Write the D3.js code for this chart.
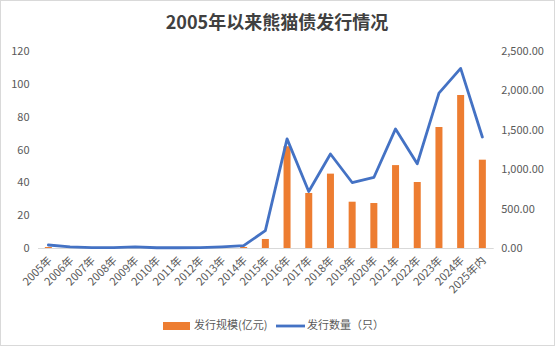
<!DOCTYPE html>
<html>
<head>
<meta charset="utf-8">
<script src="https://cdn.jsdelivr.net/npm/d3@7"></script>
<style>
  html, body { margin: 0; padding: 0; background: #fff; }
  svg { display: block; }
  text { font-family: "Noto Sans CJK SC", "Noto Sans", sans-serif; }
</style>
</head>
<body>
<svg id="chart" width="555" height="347"></svg>
<script>
// 熊猫债发行情况数据
const years = ["2005年","2006年","2007年","2008年","2009年","2010年","2011年","2012年","2013年","2014年","2015年","2016年","2017年","2018年","2019年","2020年","2021年","2022年","2023年","2024年","2025年内"];
// 发行规模（左轴）
const scaleValues = [0.6, 0, 0, 0, 0, 0, 0, 0, 0, 0.6, 5.5, 62, 33.5, 45.3, 28.2, 27.4, 50.5, 40.2, 73.7, 93.2, 53.8];
// 发行数量（右轴）
const countValues = [38, 15, 5, 5, 15, 3, 3, 5, 15, 30, 220, 1385, 717, 1193, 831, 895, 1511, 1069, 1965, 2279, 1409];
const leftTicks = [0, 20, 40, 60, 80, 100, 120];
const rightTicks = [0, 500, 1000, 1500, 2000, 2500];
const seriesNames = ["发行规模(亿元)", "发行数量（只）"];
const titleText = "2005年以来熊猫债发行情况";

const svg = d3.select("#chart");
const W = 555, H = 347;
const plot = { left: 37.5, right: 493.2, top: 51, bottom: 248 };

// 外框
svg.append("rect")
  .attr("x", 0.5).attr("y", 0.5).attr("width", W - 1).attr("height", H - 2)
  .attr("fill", "#fff").attr("stroke", "#d9d9d9");

// 标题
svg.append("text")
  .attr("x", 277).attr("y", 29)
  .attr("text-anchor", "middle")
  .attr("font-size", 18).attr("font-weight", "bold")
  .attr("fill", "#404040")
  .text(titleText);

const x = d3.scaleBand().domain(years).range([plot.left, plot.right]).paddingInner(0).paddingOuter(0);
const yL = d3.scaleLinear().domain([0, 120]).range([plot.bottom, plot.top]);
const yR = d3.scaleLinear().domain([0, 2500]).range([plot.bottom, plot.top]);

// 左轴
const leftAxis = svg.append("g")
  .attr("transform", `translate(${plot.left - 8},0)`)
  .call(d3.axisLeft(yL).tickValues(leftTicks).tickSize(0).tickPadding(0));
leftAxis.select(".domain").remove();
leftAxis.selectAll("text").attr("font-size", 11).attr("fill", "#595959")
  .attr("font-family", "'Noto Sans CJK SC', sans-serif");

// 右轴
const fmt = d3.format(",.2f");
const rightAxis = svg.append("g")
  .attr("transform", `translate(${plot.right + 8},0)`)
  .call(d3.axisRight(yR).tickValues(rightTicks).tickSize(0).tickPadding(0).tickFormat(fmt));
rightAxis.select(".domain").remove();
rightAxis.selectAll("text").attr("font-size", 11).attr("fill", "#595959")
  .attr("font-family", "'Noto Sans CJK SC', sans-serif");

// 柱形
const barW = 7;
svg.append("g").selectAll("rect").data(years).join("rect")
  .attr("x", (d) => x(d) + x.bandwidth() / 2 - barW / 2)
  .attr("width", barW)
  .attr("y", (d, i) => yL(scaleValues[i]))
  .attr("height", (d, i) => yL(0) - yL(scaleValues[i]))
  .attr("fill", "#ED7D31");

// 横轴
const bottomAxis = svg.append("g")
  .attr("transform", `translate(0,${plot.bottom})`)
  .call(d3.axisBottom(x).tickSize(0).tickPadding(0));
bottomAxis.select(".domain").attr("stroke", "#d9d9d9").attr("stroke-width", 1);
bottomAxis.selectAll("text")
  .attr("font-size", 11).attr("fill", "#595959")
  .attr("text-anchor", "end")
  .attr("dy", 0)
  .attr("transform", "translate(2,11) rotate(-45)")
  .attr("dominant-baseline", "middle");

// 折线
const line = d3.line()
  .x((d, i) => x(years[i]) + x.bandwidth() / 2)
  .y((d) => yR(d));
svg.append("path")
  .datum(countValues)
  .attr("d", line)
  .attr("fill", "none")
  .attr("stroke", "#4472C4")
  .attr("stroke-width", 2.8)
  .attr("stroke-linejoin", "round")
  .attr("stroke-linecap", "round");

// 图例
const legend = svg.append("g").attr("transform", "translate(0,326)");
legend.append("rect").attr("x", 163).attr("y", -4).attr("width", 27).attr("height", 8).attr("fill", "#ED7D31");
legend.append("text").attr("x", 194).attr("y", 0).attr("dominant-baseline", "middle")
  .attr("font-size", 11).attr("fill", "#595959").text(seriesNames[0]);
legend.append("line").attr("x1", 276).attr("x2", 305).attr("y1", 0).attr("y2", 0)
  .attr("stroke", "#4472C4").attr("stroke-width", 2.8);
legend.append("text").attr("x", 307).attr("y", 0).attr("dominant-baseline", "middle")
  .attr("font-size", 11).attr("fill", "#595959").text(seriesNames[1]);
</script>
</body>
</html>
